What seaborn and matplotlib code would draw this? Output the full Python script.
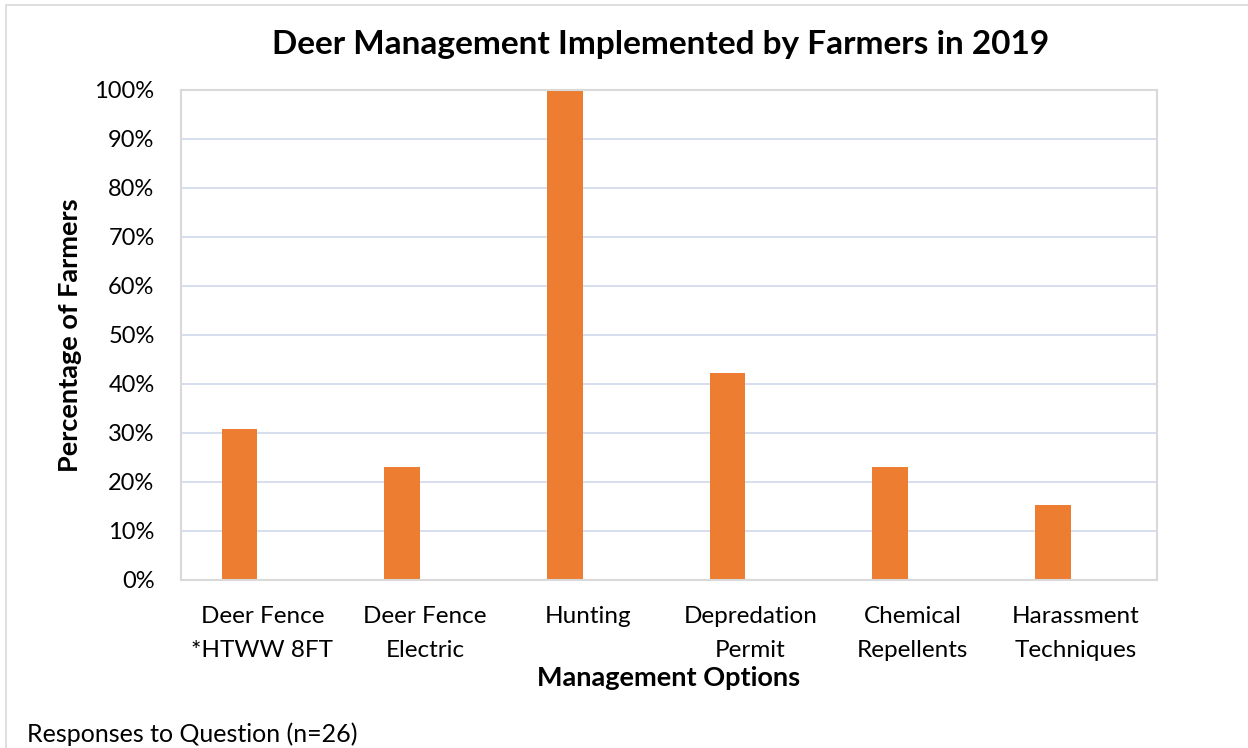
import matplotlib
matplotlib.use("Agg")
import matplotlib.pyplot as plt
import seaborn as sns
import pandas as pd
from matplotlib.ticker import PercentFormatter
from matplotlib.patches import Rectangle

categories = ["Deer Fence\n*HTWW 8FT", "Deer Fence\nElectric", "Hunting",
              "Depredation\nPermit", "Chemical\nRepellents", "Harassment\nTechniques"]
values = [30.8, 23.1, 100.0, 42.3, 23.1, 15.4]
yticks = [0, 10, 20, 30, 40, 50, 60, 70, 80, 90, 100]

sns.set_theme(style="white")
plt.rcParams['font.family'] = ['Lato', 'DejaVu Sans']
plt.rcParams['text.color'] = 'black'
plt.rcParams['axes.labelcolor'] = 'black'
plt.rcParams['xtick.color'] = 'black'
plt.rcParams['ytick.color'] = 'black'

df = pd.DataFrame({"cat": categories, "val": values})

fig = plt.figure(figsize=(12.48, 7.48), dpi=100)
ax = fig.add_axes([0.145, 0.2246, 0.782, 0.6551])

sns.barplot(data=df, x="cat", y="val", color="#ED7D31", width=0.22,
            saturation=1, ax=ax, edgecolor="none")

off = 0.14
ax.set_xticks([i + off for i in range(len(categories))])
ax.set_xticklabels(categories, fontsize=17.5, linespacing=1.72)
ax.set_xlim(-0.5 + off, len(categories) - 0.5 + off)
ax.set_ylim(0, 100)
ax.set_yticks(yticks)
ax.yaxis.set_major_formatter(PercentFormatter(decimals=0))
ax.tick_params(axis='y', labelsize=17, pad=19, length=0)
ax.tick_params(axis='x', pad=19, length=0)

ax.yaxis.grid(True, color="#D0D9EC", linewidth=1.2)
ax.set_axisbelow(True)
for s in ax.spines.values():
    s.set_visible(True)
    s.set_color("#D9D9D9")
    s.set_linewidth(1.5)

ax.set_xlabel("Management Options", fontsize=19.5, fontweight="bold", labelpad=4)
ax.set_ylabel("Percentage of Farmers", fontsize=19.5, fontweight="bold", labelpad=9)

fig.text(0.529, 0.94, "Deer Management Implemented by Farmers in 2019",
         ha="center", va="center", fontsize=24, fontweight="bold")
fig.text(0.022, 0.018, "Responses to Question (n=26)", ha="left", va="center", fontsize=18)

fig.patches.append(Rectangle((0.005, -0.01), 1.2, 1.003, transform=fig.transFigure,
                             fill=False, edgecolor="#D9D9D9", linewidth=1.2))

fig.savefig("out.png", dpi=100)
